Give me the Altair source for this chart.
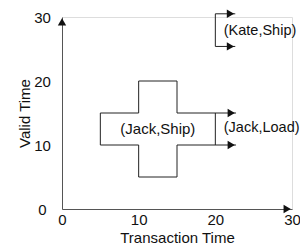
import altair as alt
import pandas as pd

FONT = "Liberation Sans, Arial, sans-serif"

# outline segments (transaction time, valid time)
seg_x1 = [5, 5, 10, 10, 15, 15, 20, 15, 15, 15, 10, 10, 20, 20, 20]
seg_y1 = [10, 15, 15, 20, 20, 15, 15, 10, 10, 5, 5, 10, 25.4, 30.5, 25.4]
seg_x2 = [5, 10, 10, 15, 15, 22.7, 20, 22.7, 15, 10, 10, 5, 20, 22.6, 22.6]
seg_y2 = [15, 15, 20, 20, 15, 15, 10, 10, 5, 5, 10, 10, 30.5, 30.5, 25.4]

# arrow heads ("now" continuations)
arrow_x = [22.7, 22.7, 22.6, 22.6]
arrow_y = [15, 10, 30.5, 25.4]

# region labels
center_labels = ["(Jack,Ship)"]
center_x = [12.5]
center_y = [12.5]
left_labels = ["(Jack,Load)", "(Kate,Ship)"]
left_x = [21.1, 21.1]
left_y = [12.6, 27.8]

ticks = [0, 5, 10, 15, 20, 25, 30]

segs = pd.DataFrame({"x": seg_x1, "y": seg_y1, "x2": seg_x2, "y2": seg_y2})
arrows = pd.DataFrame({"x": arrow_x, "y": arrow_y})
cl = pd.DataFrame({"t": center_labels, "x": center_x, "y": center_y})
ll = pd.DataFrame({"t": left_labels, "x": left_x, "y": left_y})
axis_x_tip = pd.DataFrame({"x": [30], "y": [0]})
axis_y_tip = pd.DataFrame({"x": [0], "y": [30]})

xs = alt.Scale(domain=[0, 30], nice=False, zero=False)
ys = alt.Scale(domain=[0, 30], nice=False, zero=False)

xaxis = alt.Axis(values=ticks, labelFlush=False, ticks=False, grid=False,
                 domainColor="#555", labelFont=FONT, labelFontSize=15,
                 labelColor="#111", labelPadding=3, title="Transaction Time",
                 titleFont=FONT, titleFontSize=15, titleFontWeight="normal",
                 titleColor="#111", titleBaseline="alphabetic", titleY=33)
yaxis = alt.Axis(values=ticks, ticks=False, grid=False, domainColor="#555",
                 labelFont=FONT, labelFontSize=15, labelColor="#111",
                 labelAlign="center", labelBaseline="middle", labelPadding=20,
                 title="Valid Time", titleFont=FONT, titleFontSize=15,
                 titleFontWeight="normal", titleColor="#111",
                 titleBaseline="alphabetic", titleX=-33)

lines = alt.Chart(segs).mark_rule(color="#222", strokeWidth=1).encode(
    x=alt.X("x:Q", scale=xs, axis=xaxis),
    y=alt.Y("y:Q", scale=ys, axis=yaxis),
    x2="x2:Q", y2="y2:Q")

heads = alt.Chart(arrows).mark_point(shape="triangle-right", filled=True, size=70,
                                     color="#111", opacity=1, xOffset=-4.8).encode(
    x="x:Q", y="y:Q")

xtip = alt.Chart(axis_x_tip).mark_point(shape="triangle-right", filled=True, size=70,
                                        color="#111", opacity=1, xOffset=-4.8).encode(
    x="x:Q", y="y:Q")
ytip = alt.Chart(axis_y_tip).mark_point(shape="triangle-up", filled=True, size=70,
                                        color="#111", opacity=1, yOffset=4.8).encode(
    x="x:Q", y="y:Q")

ctext = alt.Chart(cl).mark_text(font=FONT, fontSize=15, color="#111",
                                align="center", baseline="middle").encode(
    x="x:Q", y="y:Q", text="t:N")
ltext = alt.Chart(ll).mark_text(font=FONT, fontSize=14.5, color="#111",
                                align="left", baseline="middle").encode(
    x="x:Q", y="y:Q", text="t:N")

chart = alt.layer(lines, heads, xtip, ytip, ctext, ltext).properties(
    width=230, height=192,
    padding={"left": 54, "top": 9, "right": 8, "bottom": 37},
    autosize=alt.AutoSizeParams(type="none"),
).configure_view(stroke=None).configure(background="white")

chart.save("out.html", embed_options={"renderer": "svg", "actions": False})
